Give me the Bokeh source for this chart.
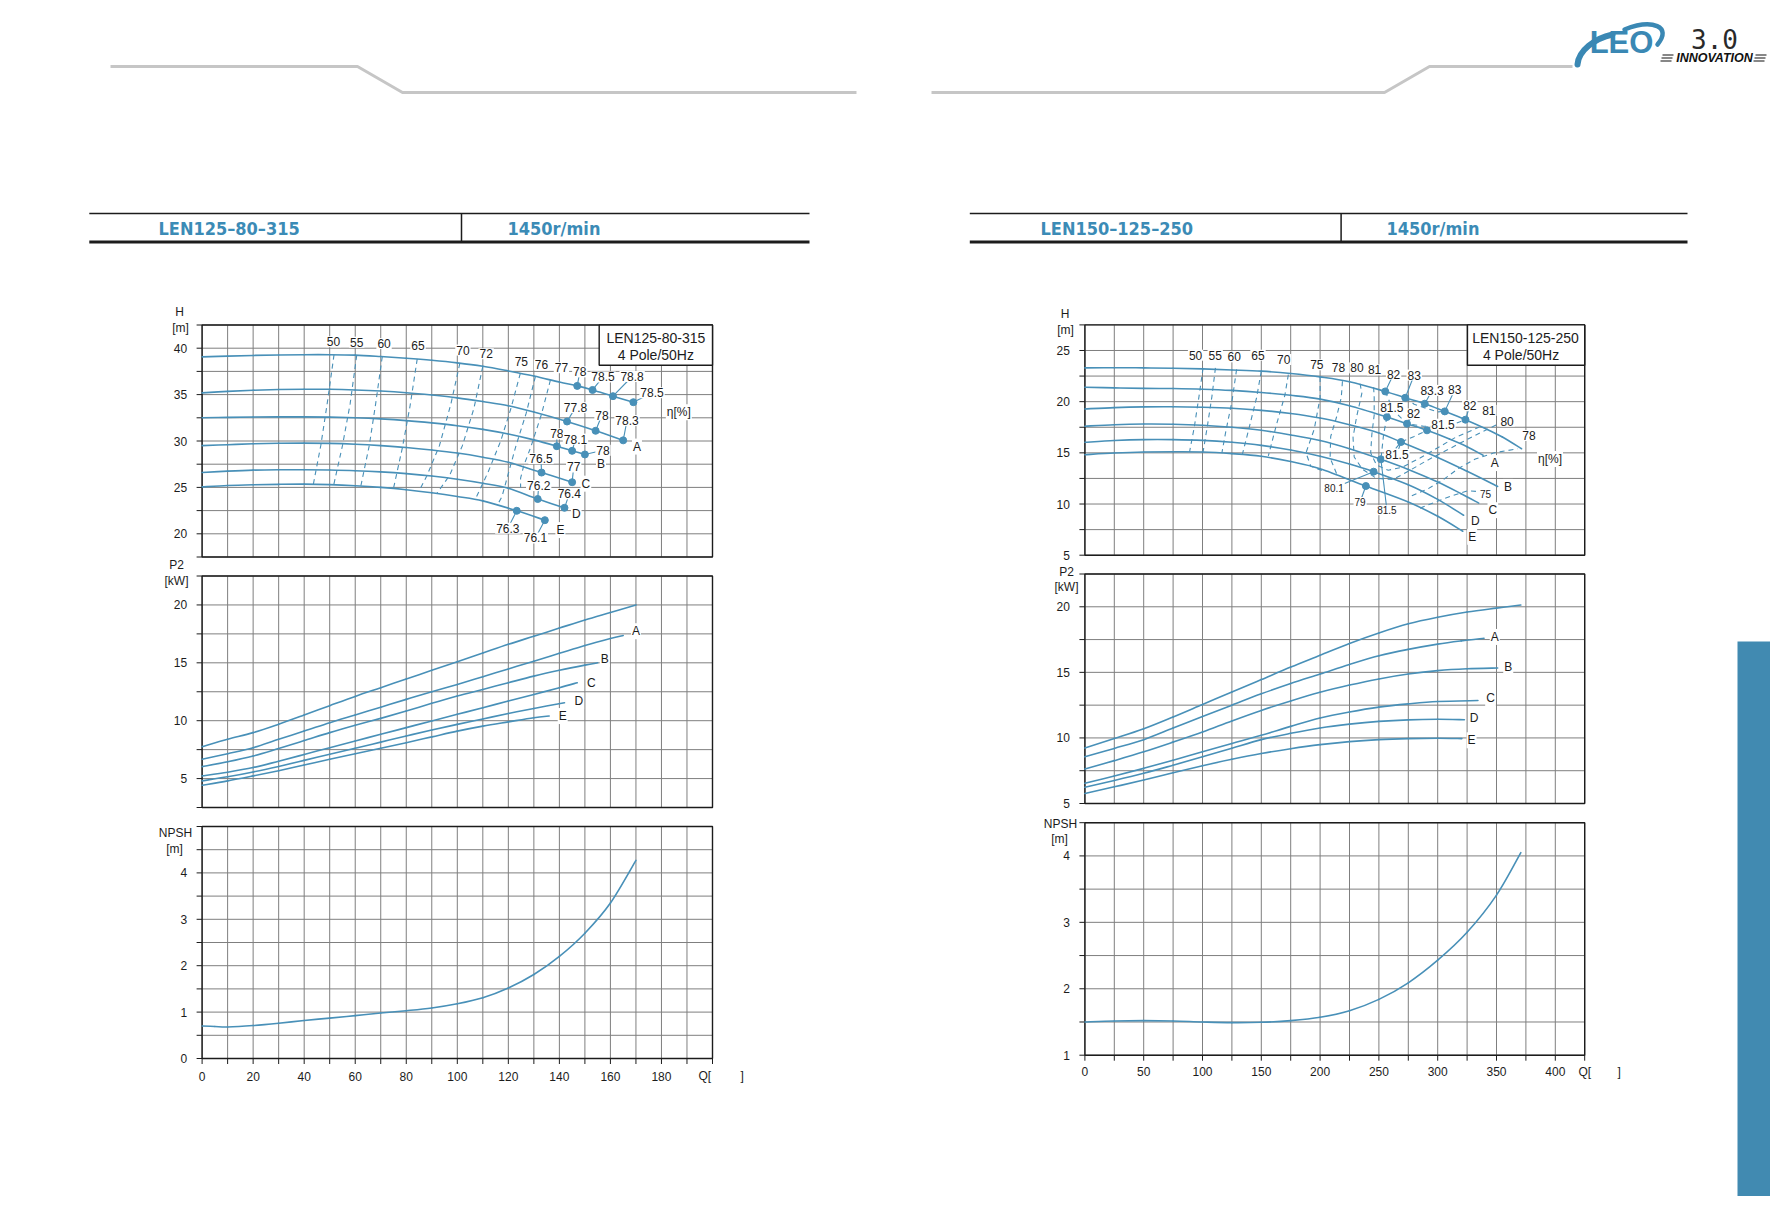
import numpy as np
from bokeh.plotting import figure
from bokeh.models import Range1d, Text
from bokeh.core.properties import value
from bokeh.embed import file_html
from bokeh.resources import INLINE

# ======================= DATA : LEN125-80-315 (left page) =======================
L_CURVE_NAMES = ["", "A", "B", "C", "D", "E"]
# H-Q curves (Q in m3/h, H in m)
LH_Q_MAX = [0, 10, 20, 30, 40, 50, 60, 70, 80, 90, 100, 110, 120, 130, 140, 147, 153, 161, 169]
LH_H_MAX = [39.07, 39.15, 39.22, 39.27, 39.3, 39.3, 39.25, 39.1, 38.92, 38.7, 38.42, 38.05, 37.55, 37.0, 36.35, 35.94, 35.5, 34.83, 34.18]
LH_Q_A = [0, 10, 20, 30, 40, 50, 60, 70, 80, 90, 100, 110, 120, 130, 143, 154.2, 165]
LH_H_A = [35.19, 35.35, 35.47, 35.55, 35.58, 35.57, 35.5, 35.38, 35.2, 34.95, 34.65, 34.25, 33.8, 33.12, 32.1, 31.1, 30.07]
LH_Q_B = [0, 10, 20, 30, 40, 50, 60, 70, 80, 90, 100, 110, 120, 130, 139, 145, 150]
LH_H_B = [32.5, 32.55, 32.58, 32.6, 32.6, 32.57, 32.5, 32.38, 32.2, 31.95, 31.65, 31.25, 30.75, 30.12, 29.44, 28.94, 28.55]
LH_Q_C = [0, 10, 20, 30, 40, 50, 60, 70, 80, 90, 100, 110, 120, 133, 145]
LH_H_C = [29.5, 29.6, 29.7, 29.75, 29.77, 29.74, 29.65, 29.5, 29.3, 29.03, 28.7, 28.25, 27.7, 26.6, 25.56]
LH_Q_D = [0, 10, 20, 30, 40, 50, 60, 70, 80, 90, 100, 110, 120, 131.5, 142]
LH_H_D = [26.6, 26.75, 26.86, 26.9, 26.9, 26.87, 26.8, 26.67, 26.48, 26.22, 25.88, 25.45, 24.9, 23.75, 22.8]
LH_Q_E = [0, 10, 20, 30, 40, 50, 60, 70, 80, 90, 100, 110, 123.3, 134.3]
LH_H_E = [25.06, 25.2, 25.28, 25.33, 25.35, 25.3, 25.18, 25.0, 24.75, 24.42, 24.02, 23.55, 22.48, 21.47]

# efficiency points on the H curves
LD_Q = [147, 153, 161, 169, 143, 154.2, 165, 139, 145, 150, 133, 145, 131.5, 142, 123.3, 134.3]
LD_H = [35.94, 35.5, 34.83, 34.18, 32.1, 31.1, 30.07, 29.44, 28.94, 28.55, 26.6, 25.56, 23.75, 22.8, 22.48, 21.47]
LD_T = ["78", "78.5", "78.8", "78.5", "77.8", "78", "78.3", "78", "78.1", "78", "76.5", "77", "76.2", "76.4", "76.3", "76.1"]

# iso-efficiency lines
L_ISO_T = ["50", "55", "60", "65", "70", "72", "75", "76", "77"]
L_ISO_Q = [
    [51.7, 49.0, 46.5, 43.6],
    [60.6, 58.0, 55.0, 51.6],
    [70.6, 68.0, 65.5, 62.2],
    [84.3, 81.5, 78.5, 75.0],
    [101, 97.5, 93, 88, 85],
    [110, 106.5, 102, 97, 92],
    [124.7, 121, 117, 112, 107],
    [130.6, 127, 123, 120, 117.5, 115.8],
    [136.5, 133, 129, 126, 124.8, 124.8],
]
L_ISO_H = [
    [39.3, 34.0, 29.5, 25.35],
    [39.25, 34.0, 29.5, 25.3],
    [39.1, 34.0, 29.5, 25.15],
    [38.85, 33.8, 29.3, 24.9],
    [38.38, 34.0, 29.5, 26.2, 24.62],
    [38.05, 33.5, 29.5, 26.3, 24.35],
    [37.3, 33.5, 30.0, 26.6, 23.7],
    [36.95, 33.0, 29.5, 26.5, 24.0, 23.15],
    [36.58, 32.9, 29.5, 27.3, 26.0, 25.0],
]

# P2-Q curves (kW)
LP_Q_MAX = [0, 10, 20, 30, 40, 50, 60, 70, 80, 90, 100, 110, 120, 130, 140, 150, 160, 170]
LP_P_MAX = [7.76, 8.39, 8.97, 9.7, 10.49, 11.3, 12.1, 12.85, 13.6, 14.35, 15.1, 15.85, 16.6, 17.3, 18.0, 18.7, 19.35, 20.0]
LP_Q_A = [0, 10, 20, 30, 40, 50, 60, 70, 80, 90, 100, 110, 120, 130, 140, 150, 160, 165]
LP_P_A = [6.67, 7.15, 7.67, 8.4, 9.1, 9.83, 10.5, 11.17, 11.84, 12.5, 13.13, 13.8, 14.47, 15.14, 15.82, 16.5, 17.1, 17.36]
LP_Q_B = [0, 10, 20, 30, 40, 50, 60, 70, 80, 90, 100, 110, 120, 130, 140, 150, 155]
LP_P_B = [6.03, 6.45, 6.95, 7.6, 8.28, 8.97, 9.6, 10.2, 10.83, 11.5, 12.13, 12.7, 13.28, 13.85, 14.35, 14.8, 15.0]
LP_Q_C = [0, 10, 20, 30, 40, 50, 60, 70, 80, 90, 100, 110, 120, 130, 140, 147]
LP_P_C = [5.23, 5.55, 5.95, 6.5, 7.08, 7.67, 8.25, 8.82, 9.4, 9.98, 10.55, 11.12, 11.7, 12.27, 12.85, 13.28]
LP_Q_D = [0, 10, 20, 30, 40, 50, 60, 70, 80, 90, 100, 110, 120, 130, 142]
LP_P_D = [4.8, 5.15, 5.57, 6.05, 6.57, 7.1, 7.62, 8.15, 8.68, 9.2, 9.68, 10.15, 10.62, 11.06, 11.55]
LP_Q_E = [0, 10, 20, 30, 40, 50, 60, 70, 80, 90, 100, 110, 120, 130, 136]
LP_P_E = [4.42, 4.8, 5.23, 5.68, 6.17, 6.67, 7.15, 7.62, 8.1, 8.6, 9.1, 9.53, 9.9, 10.26, 10.4]

# NPSH-Q
LN_Q = [0, 5, 10, 20, 30, 40, 50, 60, 70, 80, 90, 100, 110, 120, 130, 140, 150, 160, 170]
LN_N = [0.70, 0.69, 0.68, 0.71, 0.76, 0.82, 0.87, 0.925, 0.98, 1.03, 1.09, 1.18, 1.31, 1.52, 1.81, 2.2, 2.7, 3.35, 4.27]

L_Q_TICKS = [0, 20, 40, 60, 80, 100, 120, 140, 160, 180]
L_H_TICKS = [20, 25, 30, 35, 40]
L_P_TICKS = [5, 10, 15, 20]
L_N_TICKS = [0, 1, 2, 3, 4]

# ======================= DATA : LEN150-125-250 (right page) =======================
RH_Q_MAX = [0, 25, 50, 75, 100, 125, 150, 175, 200, 225, 255.4, 272.4, 289, 306, 323.6, 340, 355, 371.3]
RH_H_MAX = [23.3, 23.32, 23.3, 23.27, 23.2, 23.1, 22.98, 22.75, 22.42, 21.95, 21.0, 20.38, 19.8, 19.05, 18.24, 17.4, 16.55, 15.4]
RH_Q_A = [0, 25, 50, 75, 100, 125, 150, 175, 200, 225, 256.8, 273.9, 290.9, 310, 325, 338.6]
RH_H_A = [21.41, 21.35, 21.3, 21.28, 21.22, 21.1, 20.9, 20.62, 20.25, 19.6, 18.5, 17.85, 17.2, 16.35, 15.6, 14.76]
RH_Q_B = [0, 25, 50, 75, 100, 125, 150, 175, 200, 225, 250, 268.8, 300, 325, 351]
RH_H_B = [19.29, 19.42, 19.49, 19.5, 19.45, 19.35, 19.15, 18.85, 18.4, 17.75, 16.95, 16.06, 14.55, 13.2, 11.72]
RH_Q_C = [0, 25, 50, 75, 100, 125, 150, 175, 200, 225, 251.7, 275, 300, 320, 334.9]
RH_H_C = [17.6, 17.75, 17.82, 17.8, 17.7, 17.5, 17.2, 16.75, 16.2, 15.4, 14.37, 13.38, 12.15, 11.0, 10.09]
RH_Q_D = [0, 25, 50, 75, 100, 125, 150, 175, 200, 225, 245.5, 275, 300, 322]
RH_H_D = [16.03, 16.2, 16.29, 16.29, 16.22, 16.03, 15.73, 15.27, 14.66, 13.9, 13.16, 11.88, 10.45, 8.9]
RH_Q_E = [0, 25, 50, 75, 100, 125, 150, 175, 200, 238.9, 275, 300, 321.3]
RH_H_E = [14.82, 14.98, 15.08, 15.1, 15.08, 14.92, 14.66, 14.15, 13.45, 11.76, 10.2, 8.8, 7.34]

RD_Q = [255.4, 272.4, 289, 306, 323.6, 256.8, 273.9, 290.9, 268.8, 251.7, 245.5, 238.9]
RD_H = [21.0, 20.38, 19.8, 19.05, 18.24, 18.5, 17.85, 17.2, 16.06, 14.37, 13.16, 11.76]
RD_T = ["82", "83", "83.3", "83", "82", "81.5", "82", "81.5", "81.5", "81.5", "80.1", "79"]

R_ISO_T = ["50", "55", "60", "65", "70", "75", "78", "80", "81", "81", "80", "78", "75"]
R_ISO_Q = [
    [100.5, 97, 93, 89],
    [111, 108, 104, 100.5],
    [129, 125, 120, 116.5],
    [150, 146, 140, 134],
    [173, 170, 163, 156],
    [200, 200, 195, 188, 192, 203],
    [219, 218, 214, 209, 208.5, 215],
    [234, 235.5, 231, 228, 229, 236, 248, 262, 275, 290, 305, 320, 335, 352],
    [245.5, 246, 246, 244, 243, 248, 258, 270, 285, 300, 315, 335],
    [256.8, 254, 251.7, 256, 262, 268.8, 280, 290.9],
    [255.4, 262, 273.9, 288, 305, 316, 323.6],
    [272.4, 280, 290, 300, 306],
    [278, 292, 305, 318, 332, 348, 368],
    [285, 298, 312, 326, 336],
]
R_ISO_H = [
    [23.3, 20.5, 17.5, 15.1],
    [23.3, 20.5, 17.5, 15.1],
    [23.15, 20.0, 17.2, 15.0],
    [22.98, 20.4, 17.6, 14.9],
    [22.65, 20.6, 17.8, 14.7],
    [22.42, 20.4, 17.3, 15.0, 13.7, 13.2],
    [22.0, 20.4, 18.5, 16.6, 14.5, 12.7],
    [21.75, 20.8, 18.5, 16.5, 14.6, 13.4, 12.5, 12.4, 13.2, 14.2, 15.1, 16.0, 16.9, 17.85],
    [21.4, 20.4, 18.7, 16.8, 15.0, 13.8, 13.3, 13.6, 14.5, 15.5, 16.5, 17.5],
    [18.5, 16.8, 14.37, 14.3, 15.1, 16.06, 16.6, 17.2],
    [21.0, 19.2, 17.85, 17.6, 17.6, 17.9, 18.24],
    [20.38, 19.75, 19.35, 19.0, 19.05],
    [10.8, 11.5, 12.4, 13.5, 14.4, 15.0, 15.4],
    [9.6, 10.2, 10.8, 11.3, 11.2],
]

RP_Q_MAX = [0, 25, 50, 75, 100, 125, 150, 175, 200, 225, 250, 275, 300, 325, 350, 370.7]
RP_P_MAX = [9.24, 9.95, 10.7, 11.6, 12.55, 13.5, 14.45, 15.4, 16.3, 17.2, 18.0, 18.7, 19.2, 19.6, 19.9, 20.13]
RP_Q_A = [0, 25, 50, 75, 100, 125, 150, 175, 200, 225, 250, 275, 300, 320, 339.4]
RP_P_A = [8.56, 9.2, 9.87, 10.75, 11.64, 12.5, 13.36, 14.15, 14.87, 15.6, 16.26, 16.75, 17.15, 17.4, 17.6]
RP_Q_B = [0, 25, 50, 75, 100, 125, 150, 175, 200, 225, 250, 275, 300, 325, 351]
RP_P_B = [7.63, 8.27, 8.94, 9.68, 10.45, 11.3, 12.1, 12.82, 13.48, 14.03, 14.5, 14.87, 15.13, 15.27, 15.33]
RP_Q_C = [0, 25, 50, 75, 100, 125, 150, 175, 200, 225, 250, 275, 300, 334.2]
RP_P_C = [6.54, 7.1, 7.68, 8.3, 8.94, 9.57, 10.2, 10.88, 11.52, 11.98, 12.35, 12.6, 12.78, 12.85]
RP_Q_D = [0, 25, 50, 75, 100, 125, 150, 175, 200, 225, 250, 275, 300, 322.7]
RP_P_D = [6.24, 6.75, 7.3, 7.92, 8.56, 9.22, 9.87, 10.35, 10.76, 11.05, 11.26, 11.38, 11.42, 11.39]
RP_Q_E = [0, 25, 50, 75, 100, 125, 150, 175, 200, 225, 250, 275, 300, 320.6]
RP_P_E = [5.76, 6.27, 6.79, 7.35, 7.88, 8.37, 8.81, 9.18, 9.49, 9.72, 9.87, 9.95, 9.98, 9.95]

RN_Q = [0, 25, 50, 75, 100, 125, 150, 175, 200, 225, 250, 275, 300, 325, 350, 370.7]
RN_N = [1.5, 1.515, 1.52, 1.515, 1.5, 1.49, 1.495, 1.52, 1.57, 1.67, 1.84, 2.09, 2.43, 2.85, 3.41, 4.05]

R_Q_TICKS = [0, 50, 100, 150, 200, 250, 300, 350, 400]
R_H_TICKS = [5, 10, 15, 20, 25]
R_P_TICKS = [5, 10, 15, 20]
R_N_TICKS = [1, 2, 3, 4]

# ======================= STYLE / LAYOUT =======================
BLUE = "#4890b8"
GRID = "#7f7f7f"
INK = "#1c1c1c"
HEAD_BLUE = "#3b8bb6"
FONT = "Liberation Sans"

PW, PH = 1770, 1196
p = figure(width=PW, height=PH, x_range=Range1d(0, 1770), y_range=Range1d(16, 1212),
           x_axis_type=None, y_axis_type=None, toolbar_location=None,
           output_backend="svg", min_border=0, outline_line_color=None)
p.background_fill_color = "white"
p.border_fill_color = "white"


def Y(v):
    """reference page row (pixels from top) -> plot coordinate"""
    return 1212 - v


TEXT_PROPS = Text.properties()
HAS_BG = "background_fill_color" in TEXT_PROPS
HAS_PAD = "padding" in TEXT_PROPS


def txt(api, xs, ys, texts, size=12, align="center", baseline="middle", color=INK,
        font=FONT, style="normal", bg=False):
    kw = dict(text_font=value(font), text_font_size=f"{size}px", text_align=align,
              text_baseline=baseline, text_color=color, text_font_style=style)
    if bg and HAS_BG:
        kw["background_fill_color"] = "white"
        if HAS_PAD:
            kw["padding"] = 1
    api.text(x=list(xs), y=list(ys), text=list(texts), **kw)


def curve(api, xs, ys, **kw):
    """smooth rendering of the read points: Catmull-Rom segments drawn as Bezier glyphs"""
    x = np.asarray(xs, float)
    y = np.asarray(ys, float)
    xp = np.concatenate([[x[0]], x, [x[-1]]])
    yp = np.concatenate([[y[0]], y, [y[-1]]])
    x0, x1 = xp[1:-2], xp[2:-1]
    y0, y1 = yp[1:-2], yp[2:-1]
    cx0 = x0 + (xp[2:-1] - xp[:-3]) / 6.0
    cy0 = y0 + (yp[2:-1] - yp[:-3]) / 6.0
    cx1 = x1 - (xp[3:] - xp[1:-2]) / 6.0
    cy1 = y1 - (yp[3:] - yp[1:-2]) / 6.0
    api.bezier(x0=list(x0), y0=list(y0), x1=list(x1), y1=list(y1),
               cx0=list(cx0), cy0=list(cy0), cx1=list(cx1), cy1=list(cy1),
               line_cap="round", **kw)


def panel(xr, yr, box, xstep, ystep, ylabels, xlabels=None, xlabel_gap=18):
    left, right, top, bottom = box
    sub = p.subplot(x_source=Range1d(xr[0], xr[1]), y_source=Range1d(yr[0], yr[1]),
                    x_target=Range1d(left, right), y_target=Range1d(Y(bottom), Y(top)))
    kx = (xr[1] - xr[0]) / (right - left)
    ky = (yr[1] - yr[0]) / (bottom - top)
    xg = list(np.arange(xr[0], xr[1] + 1e-9, xstep))
    yg = list(np.arange(yr[0], yr[1] + 1e-9, ystep))
    sub.segment(x0=xg, x1=xg, y0=[yr[0]] * len(xg), y1=[yr[1]] * len(xg), line_color=GRID, line_width=1)
    sub.segment(x0=[xr[0]] * len(yg), x1=[xr[1]] * len(yg), y0=yg, y1=yg, line_color=GRID, line_width=1)
    # y-axis ticks + labels
    sub.segment(x0=[xr[0]] * len(yg), x1=[xr[0] - 5.5 * kx] * len(yg), y0=yg, y1=yg, line_color=INK, line_width=1)
    txt(sub, [xr[0] - 15 * kx] * len(ylabels), ylabels, [f"{v:g}" for v in ylabels], size=12, align="right")
    if xlabels is not None:
        sub.segment(x0=xg, x1=xg, y0=[yr[0]] * len(xg), y1=[yr[0] - 5.5 * ky] * len(xg), line_color=INK, line_width=1)
        txt(sub, xlabels, [yr[0] - xlabel_gap * ky] * len(xlabels), [f"{v:g}" for v in xlabels], size=12)
    sub.quad(left=[xr[0]], right=[xr[1]], bottom=[yr[0]], top=[yr[1]], fill_color=None,
             line_color=INK, line_width=1.4)
    return sub


def draw_curves(sub, qs, vs, width=1.6):
    for q, v in zip(qs, vs):
        curve(sub, q, v, line_color=BLUE, line_width=width)


def draw_iso(sub, qs, hs):
    for q, h in zip(qs, hs):
        sub.line(x=q, y=h, line_color=BLUE, line_width=1.1, line_dash="5 4", line_join="round")


# ----------------------- decorations (page furniture) -----------------------
p.line(x=[110, 357, 402, 856], y=[Y(66), Y(66), Y(92), Y(92)], line_color="#c6c6c6", line_width=3)
p.line(x=[931, 1384, 1429, 1572], y=[Y(92), Y(92), Y(66), Y(66)], line_color="#c6c6c6", line_width=3)

for (x0, x1, xdiv, t1x, t2x, t1) in [(88.8, 809, 461, 158, 507, "LEN125–80–315"),
                                     (969.3, 1687, 1340.6, 1040, 1386, "LEN150–125–250")]:
    p.segment(x0=[x0], x1=[x1], y0=[Y(213)], y1=[Y(213)], line_color=INK, line_width=1.5)
    p.segment(x0=[x0], x1=[x1], y0=[Y(241.5)], y1=[Y(241.5)], line_color=INK, line_width=2.8)
    p.segment(x0=[xdiv], x1=[xdiv], y0=[Y(213)], y1=[Y(241.5)], line_color=INK, line_width=1.5)
    txt(p, [t1x, t2x], [Y(228), Y(228)], [t1, "1450r/min"], size=18, align="left",
        color=HEAD_BLUE, font="DejaVu Sans Condensed", style="bold")

# logo
LOGO_BLUE = "#3a88b4"
p.bezier(x0=[1577], y0=[Y(64)], x1=[1612], y1=[Y(34)], cx0=[1578], cy0=[Y(50)], cx1=[1594], cy1=[Y(38)],
         line_color=LOGO_BLUE, line_width=6, line_cap="round")
p.bezier(x0=[1624], y0=[Y(29)], x1=[1657], y1=[Y(44)], cx0=[1652], cy0=[Y(18)], cx1=[1672], cy1=[Y(26)],
         line_color=LOGO_BLUE, line_width=4.5, line_cap="round")
txt(p, [1621], [Y(42)], ["LEO"], size=31, color=LOGO_BLUE, style="bold")
txt(p, [1714], [Y(38)], ["3.0"], size=26, color="#2a2a2a", font="DejaVu Sans Mono")
txt(p, [1714], [Y(57.5)], ["INNOVATION"], size=12.5, color="#111111", style="bold italic")
p.segment(x0=[1662, 1661, 1660, 1755, 1754, 1753], x1=[1673, 1672, 1671, 1766, 1765, 1764],
          y0=[Y(54.5), Y(57.5), Y(60.5)] * 2, y1=[Y(54.5), Y(57.5), Y(60.5)] * 2,
          line_color="#111111", line_width=1.2)

# side tab
p.quad(left=[1737], right=[1786], bottom=[Y(1212)], top=[Y(641)], fill_color="#418ab1", line_color=None)

# ======================= LEFT PUMP =======================
lh = panel((0, 200), (17.5, 42.5), (201.6, 712.0, 324.5, 556.5), 10, 2.5, L_H_TICKS)
draw_iso(lh, L_ISO_Q, L_ISO_H)
draw_curves(lh, [LH_Q_MAX, LH_Q_A, LH_Q_B, LH_Q_C, LH_Q_D, LH_Q_E],
            [LH_H_MAX, LH_H_A, LH_H_B, LH_H_C, LH_H_D, LH_H_E])
LDL_Q = [148, 157.1, 168.5, 176.3, 146.3, 156.7, 166.5, 139, 146.3, 157.1, 132.8, 145.6, 131.9, 143.9, 119.8, 130.6]
LDL_H = [37.45, 36.9, 36.95, 35.2, 33.6, 32.8, 32.2, 30.76, 30.2, 29.0, 28.1, 27.2, 25.2, 24.3, 20.6, 19.55]
lh.segment(x0=LD_Q, y0=LD_H, x1=LDL_Q, y1=LDL_H, line_color=BLUE, line_width=1.1)
lh.scatter(x=LD_Q, y=LD_H, size=7, color=BLUE)
txt(lh, LDL_Q, LDL_H, LD_T, size=12, bg=True)
txt(lh, [51.5, 60.6, 71.3, 84.6, 102.2, 111.3, 125.1, 133, 140.8],
    [40.7, 40.65, 40.5, 40.3, 39.8, 39.4, 38.6, 38.2, 37.9], L_ISO_T, size=12, bg=True)
txt(lh, [170.4, 156.3, 150.4, 146.6, 140.4], [29.4, 27.5, 25.4, 22.1, 20.4], L_CURVE_NAMES[1:], size=12, bg=True)
txt(lh, [186.8], [33.1], ["η[%]"], size=12, bg=True)
lh.quad(left=[155.6], right=[200], bottom=[38.16], top=[42.5], fill_color="white", line_color=INK, line_width=1.4)
txt(lh, [177.8, 177.8], [41.15, 39.3], ["LEN125-80-315", "4 Pole/50Hz"], size=14)

lp = panel((0, 200), (2.5, 22.5), (201.6, 712.0, 575.5, 807.0), 10, 2.5, L_P_TICKS)
draw_curves(lp, [LP_Q_MAX, LP_Q_A, LP_Q_B, LP_Q_C, LP_Q_D, LP_Q_E],
            [LP_P_MAX, LP_P_A, LP_P_B, LP_P_C, LP_P_D, LP_P_E])
txt(lp, [170, 157.8, 152.5, 147.6, 141.3], [17.73, 15.34, 13.28, 11.7, 10.4], L_CURVE_NAMES[1:], size=12, bg=True)

ln = panel((0, 200), (0, 5), (201.6, 712.0, 826.0, 1058.0), 10, 0.5, L_N_TICKS, L_Q_TICKS, 18)
draw_curves(ln, [LN_Q], [LN_N])

# axis titles (left)
txt(p, [179, 180], [Y(311), Y(327)], ["H", "[m]"], size=12)
txt(p, [176, 176], [Y(564), Y(580)], ["P2", "[kW]"], size=12)
txt(p, [175, 174], [Y(832), Y(848)], ["NPSH", "[m]"], size=12)
txt(p, [698, 740], [Y(1075), Y(1075)], ["Q[", "]"], size=12, align="left")

# ======================= RIGHT PUMP =======================
rh = panel((0, 425), (5, 27.5), (1084.4, 1584.2, 324.4, 554.7), 25, 2.5, R_H_TICKS)
draw_iso(rh, R_ISO_Q, R_ISO_H)
draw_curves(rh, [RH_Q_MAX, RH_Q_A, RH_Q_B, RH_Q_C, RH_Q_D, RH_Q_E],
            [RH_H_MAX, RH_H_A, RH_H_B, RH_H_C, RH_H_D, RH_H_E])
RDL_Q = [262.5, 280, 295.2, 314.5, 327.3, 261, 279.5, 304.5, 265.3, 256.8, 211.9, 234]
RDL_H = [22.7, 22.6, 21.1, 21.16, 19.6, 19.4, 18.8, 17.8, 14.85, 9.4, 11.6, 10.2]
rh.segment(x0=RD_Q, y0=RD_H, x1=RDL_Q, y1=RDL_H, line_color=BLUE, line_width=1.1)
rh.scatter(x=RD_Q, y=RD_H, size=7, color=BLUE)
txt(rh, RDL_Q[:9], RDL_H[:9], RD_T[:9], size=12, bg=True)
txt(rh, RDL_Q[9:], RDL_H[9:], RD_T[9:], size=10, bg=True)
txt(rh, [94.1, 110.8, 126.9, 147.2, 169.1, 197.2, 215.6, 231.3, 246.3, 343.5, 359, 377.6],
    [24.54, 24.54, 24.38, 24.54, 24.12, 23.6, 23.3, 23.3, 23.1, 19.15, 18.1, 16.7], R_ISO_T[:12], size=12, bg=True)
txt(rh, [340.6], [11.0], R_ISO_T[12:], size=10, bg=True)
txt(rh, [348.6, 359.7, 346.9, 332.1, 329.3], [14.0, 11.67, 9.4, 8.35, 6.8], L_CURVE_NAMES[1:], size=12, bg=True)
txt(rh, [395.5], [14.4], ["η[%]"], size=12, bg=True)
rh.quad(left=[325.3], right=[425], bottom=[23.56], top=[27.5], fill_color="white", line_color=INK, line_width=1.4)
txt(rh, [374.7, 370.9], [26.22, 24.6], ["LEN150-125-250", "4 Pole/50Hz"], size=14)

rp = panel((0, 425), (5, 22.5), (1084.4, 1584.2, 573.5, 803.0), 25, 2.5, R_P_TICKS)
draw_curves(rp, [RP_Q_MAX, RP_Q_A, RP_Q_B, RP_Q_C, RP_Q_D, RP_Q_E],
            [RP_P_MAX, RP_P_A, RP_P_B, RP_P_C, RP_P_D, RP_P_E])
txt(rp, [348.5, 360, 344.9, 331, 328.8], [17.7, 15.38, 13.03, 11.52, 9.82], L_CURVE_NAMES[1:], size=12, bg=True)

rn = panel((0, 425), (1, 4.5), (1084.4, 1584.2, 822.2, 1054.7), 25, 0.5, R_N_TICKS, R_Q_TICKS, 16)
draw_curves(rn, [RN_Q], [RN_N])

txt(p, [1064.5, 1065], [Y(313), Y(329)], ["H", "[m]"], size=12)
txt(p, [1066, 1066], [Y(571), Y(586)], ["P2", "[kW]"], size=12)
txt(p, [1060, 1059], [Y(823), Y(838)], ["NPSH", "[m]"], size=12)
txt(p, [1578, 1617], [Y(1071), Y(1071)], ["Q[", "]"], size=12, align="left")

open("out.html", "w").write(file_html(p, INLINE))
